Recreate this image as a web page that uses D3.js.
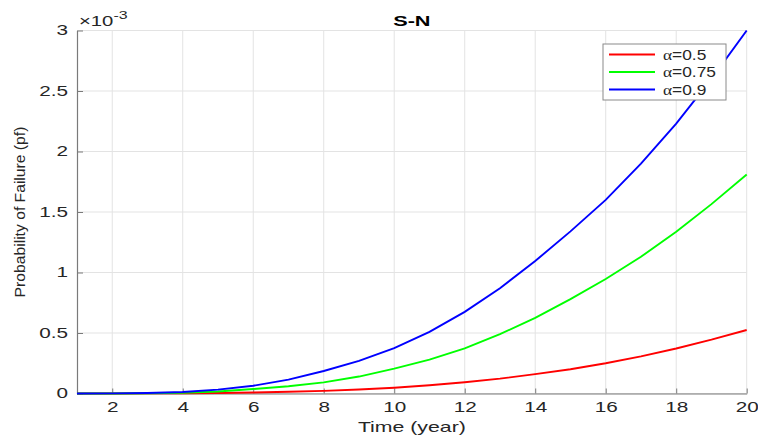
<!DOCTYPE html>
<html>
<head>
<meta charset="utf-8">
<script src="https://cdn.jsdelivr.net/npm/d3@7"></script>
<style>
  html, body { margin: 0; padding: 0; background: #fff; }
  svg { display: block; font-family: "Liberation Sans", Arial, Helvetica, sans-serif; }
</style>
</head>
<body>
<svg id="chart" width="758" height="442"></svg>
<script>
// Time in years
const years = [1,2,3,4,5,6,7,8,9,10,11,12,13,14,15,16,17,18,19,20];

// Probability of failure for each alpha (values in units of 1e-3)
const pfAlpha05  = [0,0.0002,0.0008,0.002,0.004,0.008,0.014,0.022,0.033,0.048,0.068,0.093,0.123,0.16,0.2,0.25,0.307,0.372,0.445,0.525];
const pfAlpha075 = [0,0.0005,0.002,0.006,0.017,0.037,0.06,0.092,0.14,0.205,0.28,0.373,0.49,0.625,0.78,0.946,1.13,1.337,1.565,1.81];
const pfAlpha09  = [0,0.001,0.004,0.012,0.032,0.064,0.115,0.186,0.27,0.375,0.51,0.675,0.87,1.095,1.34,1.6,1.9,2.23,2.6,3.0];

const seriesLabels = ["0.5", "0.75", "0.9"];
const seriesColors = ["#ff0000", "#00ff00", "#0000ff"];

const xTicks = [2,4,6,8,10,12,14,16,18,20];
const yTicks = [0,0.5,1,1.5,2,2.5,3];

const scale = 1e-3;
const series = [pfAlpha05, pfAlpha075, pfAlpha09].map(arr => arr.map(v => v * scale));

const svg = d3.select("#chart");
const m = { left: 77, right: 11.3, top: 30.5, bottom: 48.5 };
const W = 758, H = 442;

const x = d3.scaleLinear().domain([1, 20]).range([m.left, W - m.right]);
const y = d3.scaleLinear().domain([0, 3e-3]).range([H - m.bottom, m.top]);

// widen glyphs horizontally around the text's own anchor point
function widen(sel, sx) {
  sel.each(function () {
    const t = d3.select(this);
    const x0 = +t.attr("x") || 0;
    t.attr("x", x0 / sx).attr("transform", `scale(${sx},1)`);
  });
}
function label(px, py, sx) {
  return svg.append("text").attr("transform", `translate(${px},${py}) scale(${sx},1)`);
}

// grid
const grid = svg.append("g").attr("stroke", "#e3e3e3").attr("stroke-width", 1);
xTicks.forEach(t => grid.append("line")
  .attr("x1", x(t)).attr("x2", x(t)).attr("y1", y(0)).attr("y2", y(3e-3)));
yTicks.forEach(t => grid.append("line")
  .attr("x1", x(1)).attr("x2", x(20)).attr("y1", y(t * scale)).attr("y2", y(t * scale)));

// axes (ticks point inward)
const xAxis = d3.axisBottom(x).tickValues(xTicks).tickSizeInner(-5).tickSizeOuter(0).tickPadding(9);
const yAxis = d3.axisLeft(y).tickValues(yTicks.map(t => t * scale)).tickSizeInner(-6).tickSizeOuter(0)
  .tickPadding(9).tickFormat(d => d3.format("")(+(d / scale).toFixed(2)));

const gx = svg.append("g").attr("transform", `translate(0,${y(0)})`).call(xAxis);
const gy = svg.append("g").attr("transform", `translate(${x(1)},0)`).call(yAxis);
[gx, gy].forEach(g => {
  g.select(".domain").attr("stroke", "#7a7a7a").attr("stroke-width", 1.2);
  g.selectAll(".tick line").attr("stroke", "#7a7a7a");
  g.selectAll(".tick text").attr("fill", "#262626").style("font-size", "14px")
    .style("font-family", "'Liberation Sans', Arial, sans-serif");
  widen(g.selectAll(".tick text"), 1.48);
});

// curves
const line = d3.line().x((d, i) => x(years[i])).y(d => y(d));
series.forEach((s, k) => {
  svg.append("path").datum(s).attr("d", line)
    .attr("fill", "none").attr("stroke", seriesColors[k]).attr("stroke-width", 1.9);
});

// exponent label
const ex = label(79, 26, 1.45).attr("fill", "#262626").style("font-size", "14px");
ex.append("tspan").text("\u00d710");
ex.append("tspan").attr("dy", -7).style("font-size", "11px").text("-3");

// title
label((x(1) + x(20)) / 2, 26, 1.45).attr("text-anchor", "middle")
  .attr("fill", "#000").style("font-size", "15px").style("font-weight", "bold").text("S-N");

// axis labels
label((x(1) + x(20)) / 2, 432, 1.52).attr("text-anchor", "middle")
  .attr("fill", "#262626").style("font-size", "14px").text("Time (year)");
svg.append("text").attr("transform", `translate(24.5,212) rotate(-90) scale(1.12,1)`)
  .attr("text-anchor", "middle").attr("fill", "#262626")
  .style("font-size", "14px").style("font-family", "'Liberation Sans', Arial, sans-serif")
  .text("Probability of Failure (pf)");

// legend
const lg = svg.append("g").attr("transform", "translate(603,44)");
lg.append("rect").attr("width", 123).attr("height", 56).attr("fill", "#fff")
  .attr("stroke", "#8a8a8a").attr("stroke-width", 1);
seriesLabels.forEach((lab, i) => {
  const yy = 10.5 + i * 17.5;
  lg.append("line").attr("x1", 6).attr("x2", 52).attr("y1", yy).attr("y2", yy)
    .attr("stroke", seriesColors[i]).attr("stroke-width", 1.8);
  const t = lg.append("text").attr("transform", `translate(60,${yy + 5}) scale(1.24,1)`)
    .attr("fill", "#262626").style("font-size", "14px");
  t.append("tspan").style("font-family", "'Liberation Serif', 'DejaVu Serif', serif").text("\u03b1");
  t.append("tspan").text("=" + lab);
});
</script>
</body>
</html>
